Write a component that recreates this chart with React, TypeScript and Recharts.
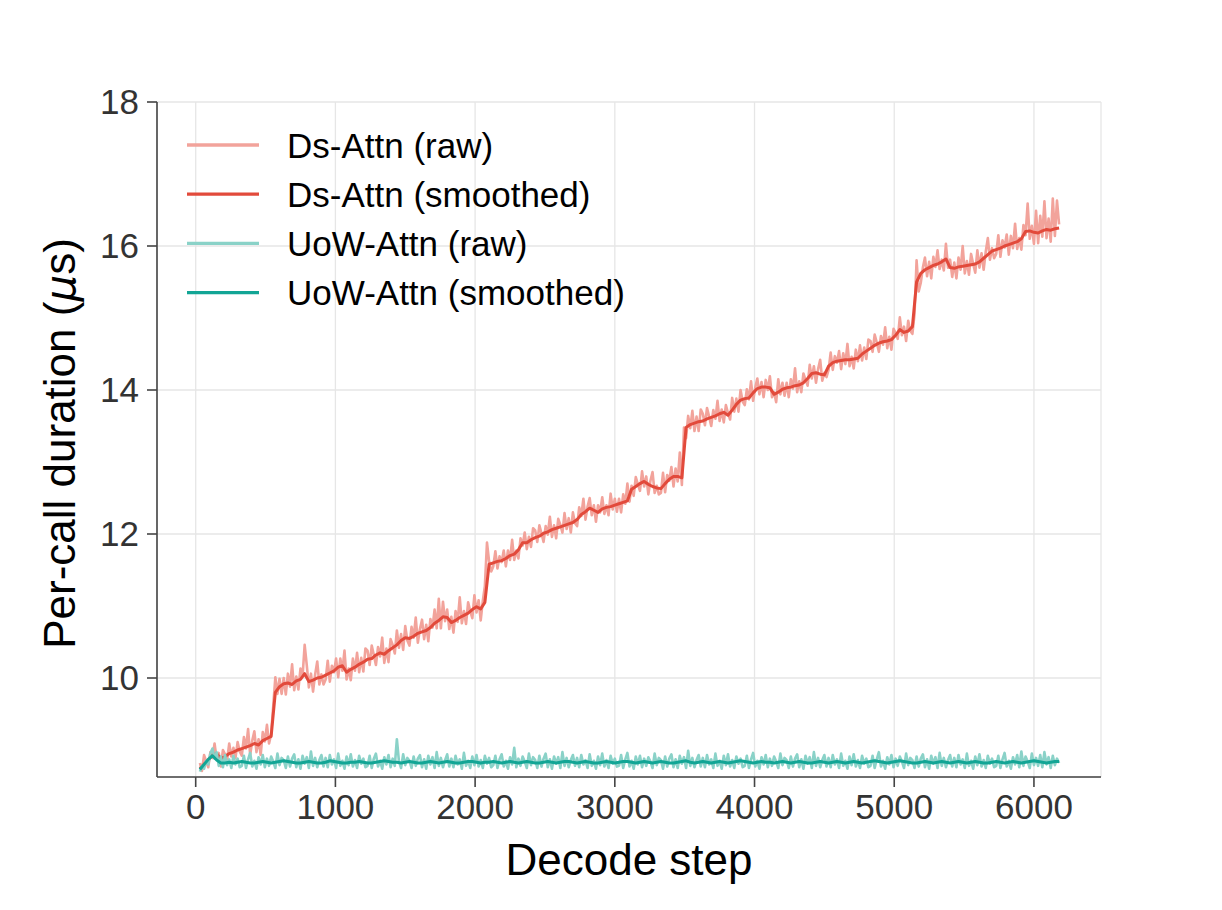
import React from "react";
import { LineChart, Line, XAxis, YAxis, CartesianGrid, Label } from "recharts";

// Raw samples every 15 decode steps, smoothed every 30, both from step 30 to 6180
const FIRST_STEP = 30;
const RAW_GAP = 15;
const SMOOTH_GAP = 30;

// Ds-Attn, raw per-call duration (µs), 20 samples per row
const dsRaw = [
  8.82, 8.71, 8.93, 8.84, 8.76, 8.97, 8.89, 9.09, 8.87, 8.96, 8.77, 9.00, 8.94, 8.86, 9.09, 8.91, 9.03, 8.89, 9.11, 8.98,
  8.92, 9.18, 9.02, 9.29, 8.93, 9.13, 9.26, 8.97, 9.15, 8.93, 9.25, 9.12, 9.35, 9.09, 9.22, 9.61, 10.01, 9.78, 9.99, 9.78,
  10.00, 9.77, 10.06, 9.88, 10.19, 9.83, 10.02, 9.84, 10.13, 10.03, 10.46, 10.18, 9.87, 10.06, 9.81, 10.05, 10.23, 9.91, 10.05, 9.91,
  9.98, 10.24, 9.95, 10.17, 10.08, 10.27, 10.01, 10.27, 10.10, 10.38, 9.98, 10.13, 9.97, 10.27, 10.10, 10.35, 10.08, 10.28, 10.09, 10.41,
  10.38, 10.18, 10.45, 10.32, 10.18, 10.43, 10.30, 10.56, 10.21, 10.41, 10.22, 10.54, 10.46, 10.34, 10.66, 10.42, 10.61, 10.39, 10.72, 10.52,
  10.45, 10.71, 10.56, 10.84, 10.49, 10.68, 10.81, 10.54, 10.74, 10.51, 10.82, 10.70, 10.95, 10.69, 11.10, 10.69, 11.06, 10.79, 10.95, 10.68,
  10.85, 10.63, 10.93, 10.78, 11.12, 10.76, 10.93, 10.75, 11.05, 10.93, 10.83, 11.15, 10.91, 11.08, 10.80, 11.07, 11.28, 11.88, 11.62, 11.48,
  11.55, 11.76, 11.52, 11.69, 11.61, 11.77, 11.55, 11.77, 11.64, 11.92, 11.64, 11.77, 11.66, 11.94, 11.84, 12.02, 11.79, 11.96, 11.82, 12.08,
  12.05, 11.89, 12.12, 12.01, 11.89, 12.11, 11.99, 12.24, 11.96, 12.12, 11.94, 12.21, 12.13, 12.02, 12.29, 12.07, 12.22, 12.02, 12.30, 12.15,
  12.11, 12.37, 12.25, 12.49, 12.20, 12.38, 12.50, 12.26, 12.40, 12.17, 12.40, 12.30, 12.51, 12.28, 12.40, 12.26, 12.56, 12.34, 12.49, 12.31,
  12.49, 12.30, 12.55, 12.42, 12.70, 12.45, 12.67, 12.53, 12.79, 12.69, 12.60, 12.87, 12.66, 12.80, 12.55, 12.74, 12.86, 12.57, 12.67, 12.55,
  12.57, 12.85, 12.58, 12.82, 12.74, 12.93, 12.66, 12.91, 12.73, 13.13, 12.68, 13.48, 13.33, 13.64, 13.47, 13.71, 13.43, 13.63, 13.43, 13.73,
  13.67, 13.51, 13.75, 13.63, 13.50, 13.72, 13.60, 13.85, 13.57, 13.73, 13.55, 13.79, 13.68, 13.59, 13.89, 13.70, 13.88, 13.70, 14.00, 13.84,
  13.79, 14.01, 13.87, 14.12, 13.85, 14.03, 14.16, 13.94, 14.11, 13.90, 14.14, 14.00, 14.19, 13.90, 13.97, 13.83, 14.15, 13.94, 14.10, 13.92,
  14.10, 13.90, 14.15, 14.02, 14.30, 13.97, 14.12, 13.97, 14.23, 14.14, 14.06, 14.35, 14.16, 14.33, 14.10, 14.29, 14.42, 14.13, 14.24, 14.18,
  14.28, 14.52, 14.28, 14.47, 14.38, 14.54, 14.29, 14.51, 14.36, 14.64, 14.33, 14.46, 14.30, 14.56, 14.40, 14.62, 14.41, 14.59, 14.43, 14.70,
  14.68, 14.53, 14.77, 14.66, 14.53, 14.75, 14.63, 14.87, 14.58, 14.74, 14.56, 14.85, 14.79, 14.71, 15.01, 14.76, 14.88, 14.68, 14.96, 14.82,
  14.78, 15.05, 15.80, 15.37, 15.49, 15.70, 15.84, 15.58, 15.78, 15.55, 15.85, 15.71, 15.94, 15.68, 15.81, 15.66, 16.03, 15.70, 15.81, 15.57,
  15.77, 15.55, 15.84, 15.67, 16.00, 15.62, 15.79, 15.60, 15.89, 15.75, 15.63, 15.94, 15.70, 15.90, 15.67, 15.92, 16.11, 15.81, 15.97, 15.83,
  15.89, 16.15, 15.85, 16.08, 15.98, 16.16, 15.88, 16.14, 15.97, 16.31, 15.96, 16.11, 15.95, 16.29, 16.15, 16.59, 16.10, 16.28, 16.03, 16.49,
  16.04, 16.42, 16.13, 16.62, 16.11, 16.38, 16.06, 16.66, 16.14, 16.63, 16.30,
];

// Ds-Attn, smoothed, 10 samples per row
const dsSmooth = [
  8.74, 8.80, 8.86, 8.93, 8.95, 8.88, 8.91, 8.95, 8.97, 9.00,
  9.02, 9.04, 9.06, 9.09, 9.07, 9.13, 9.16, 9.19, 9.80, 9.88,
  9.92, 9.93, 9.91, 9.96, 9.98, 10.06, 9.95, 9.97, 10.00, 10.01,
  10.04, 10.07, 10.10, 10.15, 10.17, 10.08, 10.12, 10.15, 10.19, 10.22,
  10.26, 10.27, 10.32, 10.35, 10.33, 10.38, 10.42, 10.46, 10.52, 10.56,
  10.55, 10.58, 10.62, 10.64, 10.66, 10.70, 10.76, 10.80, 10.85, 10.84,
  10.77, 10.80, 10.84, 10.87, 10.90, 10.95, 10.99, 10.96, 11.05, 11.58,
  11.60, 11.62, 11.63, 11.66, 11.70, 11.72, 11.78, 11.88, 11.88, 11.92,
  11.95, 11.97, 12.01, 12.03, 12.06, 12.08, 12.10, 12.12, 12.14, 12.16,
  12.20, 12.27, 12.31, 12.36, 12.33, 12.30, 12.35, 12.37, 12.38, 12.40,
  12.42, 12.44, 12.46, 12.62, 12.66, 12.70, 12.73, 12.69, 12.66, 12.64,
  12.63, 12.70, 12.76, 12.80, 12.80, 12.78, 13.48, 13.52, 13.54, 13.56,
  13.57, 13.60, 13.62, 13.64, 13.67, 13.69, 13.65, 13.72, 13.80, 13.86,
  13.88, 13.89, 13.96, 14.02, 14.04, 14.04, 14.03, 13.94, 13.97, 14.01,
  14.03, 14.04, 14.06, 14.07, 14.10, 14.16, 14.23, 14.24, 14.22, 14.21,
  14.33, 14.38, 14.40, 14.41, 14.42, 14.42, 14.43, 14.44, 14.50, 14.54,
  14.58, 14.62, 14.65, 14.67, 14.68, 14.70, 14.76, 14.84, 14.80, 14.82,
  14.88, 15.50, 15.62, 15.67, 15.70, 15.73, 15.75, 15.78, 15.82, 15.70,
  15.69, 15.71, 15.72, 15.73, 15.74, 15.75, 15.78, 15.83, 15.88, 15.93,
  15.95, 15.97, 16.00, 16.02, 16.04, 16.06, 16.10, 16.20, 16.21, 16.19,
  16.18, 16.21, 16.23, 16.22, 16.24, 16.25,
];

// UoW-Attn, raw, 20 samples per row
const uowRaw = [
  8.70, 8.78, 8.74, 8.85, 8.80, 8.95, 9.02, 8.88, 8.97, 8.78, 8.91, 8.76, 8.93, 8.79, 8.87, 8.75, 8.92, 8.80, 8.88, 8.76,
  8.78, 8.92, 8.75, 8.87, 8.96, 8.77, 8.85, 8.74, 8.90, 8.80, 8.93, 8.76, 8.88, 8.78, 8.91, 8.84, 8.75, 8.95, 8.79, 8.89,
  8.86, 8.75, 8.91, 8.77, 8.88, 8.94, 8.76, 8.87, 8.74, 8.92, 8.81, 8.90, 8.75, 8.98, 8.78, 8.89, 8.76, 8.86, 8.93, 8.77,
  8.89, 8.76, 8.93, 8.80, 8.87, 8.75, 8.95, 8.78, 8.85, 8.74, 8.91, 8.79, 8.94, 8.77, 8.86, 8.75, 8.92, 8.81, 8.88, 8.76,
  8.78, 8.92, 8.75, 8.88, 8.95, 8.77, 8.85, 8.74, 8.90, 8.80, 8.93, 8.76, 8.88, 8.78, 9.15, 8.84, 8.75, 8.94, 8.79, 8.89,
  8.85, 8.75, 8.91, 8.78, 8.88, 8.93, 8.76, 8.87, 8.74, 8.92, 8.80, 8.90, 8.75, 8.97, 8.78, 8.89, 8.76, 8.86, 8.94, 8.77,
  8.88, 8.76, 8.92, 8.80, 8.87, 8.74, 8.96, 8.78, 8.85, 8.75, 8.91, 8.79, 8.93, 8.77, 8.86, 8.75, 8.92, 8.81, 8.89, 8.76,
  8.79, 8.92, 8.75, 8.87, 8.94, 8.77, 8.85, 8.74, 8.90, 8.80, 9.03, 8.76, 8.88, 8.78, 8.91, 8.84, 8.75, 8.95, 8.79, 8.90,
  8.86, 8.75, 8.92, 8.77, 8.88, 8.95, 8.76, 8.87, 8.74, 8.91, 8.81, 8.90, 8.75, 8.97, 8.78, 8.89, 8.76, 8.86, 8.93, 8.78,
  8.89, 8.76, 8.93, 8.80, 8.86, 8.75, 8.94, 8.78, 8.85, 8.74, 8.91, 8.79, 8.95, 8.77, 8.86, 8.75, 8.92, 8.81, 8.88, 8.77,
  8.78, 8.93, 8.75, 8.87, 8.96, 8.77, 8.85, 8.74, 8.91, 8.80, 8.92, 8.76, 8.88, 8.78, 8.90, 8.84, 8.75, 8.95, 8.79, 8.89,
  8.86, 8.74, 8.91, 8.77, 8.88, 8.94, 8.76, 8.87, 8.75, 8.92, 8.81, 8.90, 8.75, 8.99, 8.78, 8.89, 8.76, 8.86, 8.93, 8.77,
  8.89, 8.76, 8.93, 8.80, 8.87, 8.75, 8.95, 8.78, 8.85, 8.74, 8.92, 8.79, 8.94, 8.77, 8.86, 8.75, 8.91, 8.81, 8.88, 8.76,
  8.78, 8.92, 8.75, 8.87, 8.96, 8.77, 8.85, 8.74, 8.90, 8.80, 8.93, 8.76, 8.88, 8.78, 8.91, 8.84, 8.75, 8.95, 8.79, 8.89,
  8.86, 8.75, 8.91, 8.77, 8.88, 8.94, 8.76, 8.87, 8.74, 8.92, 8.81, 8.90, 8.75, 8.97, 8.78, 8.89, 8.76, 8.86, 8.93, 8.77,
  8.89, 8.76, 8.93, 8.80, 8.87, 8.75, 8.95, 8.78, 8.85, 8.74, 8.91, 8.79, 8.94, 8.77, 8.86, 8.75, 8.92, 8.81, 8.88, 8.76,
  8.78, 8.92, 8.75, 8.87, 8.97, 8.77, 8.85, 8.74, 8.90, 8.80, 8.93, 8.76, 8.88, 8.78, 8.91, 8.84, 8.75, 8.95, 8.79, 8.89,
  8.86, 8.75, 8.91, 8.77, 8.88, 8.94, 8.76, 8.87, 8.74, 8.92, 8.81, 8.90, 8.75, 8.96, 8.78, 8.89, 8.76, 8.86, 8.93, 8.77,
  8.89, 8.76, 8.93, 8.80, 8.87, 8.75, 8.95, 8.78, 8.85, 8.74, 8.91, 8.79, 8.94, 8.77, 8.86, 8.75, 8.92, 8.81, 8.88, 8.76,
  8.78, 8.92, 8.75, 8.87, 8.96, 8.77, 8.85, 8.74, 8.90, 8.80, 8.93, 8.76, 8.98, 8.78, 8.91, 8.84, 8.75, 8.95, 8.79, 8.89,
  8.78, 8.93, 8.76, 8.97, 8.80, 8.90, 8.75, 8.92, 8.79, 8.88, 8.82,
];

// UoW-Attn, smoothed, 10 samples per row
const uowSmooth = [
  8.73, 8.80, 8.87, 8.92, 8.86, 8.82, 8.82, 8.83, 8.82, 8.83,
  8.84, 8.83, 8.82, 8.82, 8.83, 8.84, 8.83, 8.82, 8.83, 8.84,
  8.85, 8.84, 8.83, 8.82, 8.82, 8.83, 8.84, 8.83, 8.82, 8.82,
  8.83, 8.85, 8.84, 8.83, 8.82, 8.82, 8.83, 8.83, 8.84, 8.83,
  8.82, 8.82, 8.83, 8.84, 8.85, 8.84, 8.83, 8.83, 8.82, 8.83,
  8.84, 8.83, 8.82, 8.82, 8.83, 8.84, 8.83, 8.82, 8.83, 8.84,
  8.83, 8.82, 8.82, 8.83, 8.84, 8.84, 8.83, 8.82, 8.83, 8.83,
  8.84, 8.83, 8.82, 8.83, 8.84, 8.83, 8.82, 8.83, 8.84, 8.83,
  8.82, 8.82, 8.83, 8.84, 8.83, 8.82, 8.83, 8.84, 8.84, 8.83,
  8.82, 8.83, 8.84, 8.83, 8.82, 8.82, 8.83, 8.84, 8.83, 8.82,
  8.83, 8.84, 8.84, 8.83, 8.82, 8.83, 8.84, 8.83, 8.82, 8.83,
  8.84, 8.83, 8.82, 8.82, 8.83, 8.84, 8.85, 8.83, 8.82, 8.83,
  8.84, 8.83, 8.82, 8.83, 8.84, 8.83, 8.82, 8.83, 8.84, 8.85,
  8.84, 8.83, 8.82, 8.83, 8.84, 8.83, 8.83, 8.82, 8.83, 8.84,
  8.83, 8.82, 8.83, 8.84, 8.83, 8.82, 8.82, 8.83, 8.84, 8.83,
  8.82, 8.83, 8.84, 8.83, 8.82, 8.83, 8.84, 8.83, 8.82, 8.83,
  8.84, 8.85, 8.84, 8.83, 8.82, 8.83, 8.84, 8.85, 8.84, 8.83,
  8.82, 8.82, 8.83, 8.84, 8.83, 8.82, 8.83, 8.84, 8.83, 8.82,
  8.83, 8.84, 8.83, 8.82, 8.83, 8.84, 8.83, 8.82, 8.82, 8.83,
  8.84, 8.83, 8.82, 8.83, 8.84, 8.83, 8.82, 8.83, 8.84, 8.85,
  8.84, 8.83, 8.82, 8.83, 8.84, 8.84,
];

const xTicks = [0, 1000, 2000, 3000, 4000, 5000, 6000];
const yTicks = [10, 12, 14, 16, 18];

const toPoints = (values: number[], gap: number) =>
  values.map((v, i) => ({ step: FIRST_STEP + i * gap, value: v }));

const series = [
  { key: "dsRaw", name: "Ds-Attn (raw)", color: "#f2a39b", width: 2.6, data: toPoints(dsRaw, RAW_GAP) },
  { key: "dsSmooth", name: "Ds-Attn (smoothed)", color: "#e24a3b", width: 3, data: toPoints(dsSmooth, SMOOTH_GAP) },
  { key: "uowRaw", name: "UoW-Attn (raw)", color: "#8ad2c8", width: 2.6, data: toPoints(uowRaw, RAW_GAP) },
  { key: "uowSmooth", name: "UoW-Attn (smoothed)", color: "#12a595", width: 3, data: toPoints(uowSmooth, SMOOTH_GAP) },
];

const FONT = '"Liberation Sans", Arial, sans-serif';

function YTitle(props: any) {
  const vb = props.viewBox || { x: 0, y: 102, width: 157, height: 675 };
  const cy = vb.y + vb.height / 2 + 4;
  const cx = 75;
  return (
    <text
      x={cx}
      y={cy}
      transform={`rotate(-90, ${cx}, ${cy})`}
      textAnchor="middle"
      fontSize={44}
      fontFamily={FONT}
      fill="#000"
    >
      Per-call duration (<tspan fontStyle="italic" fontFamily='"DejaVu Sans", sans-serif' fontSize={42}>μ</tspan>s)
    </text>
  );
}

function LegendBox() {
  return (
    <svg
      width={500}
      height={200}
      style={{ position: "absolute", left: 180, top: 120, overflow: "visible" }}
    >
      {series.map((s, i) => {
        const y = 25 + i * 49.2;
        return (
          <g key={s.key}>
            <line x1={7} x2={79} y1={y} y2={y} stroke={s.color} strokeWidth={3.3} />
            <text x={107} y={y + 12.5} fontSize={35} fontFamily={FONT} fill="#000">
              {s.name}
            </text>
          </g>
        );
      })}
    </svg>
  );
}

export default function App() {
  return (
    <div style={{ position: "absolute", left: 0, top: 0, width: 1222, height: 910, background: "#fff" }}>
      <LineChart width={1222} height={910} margin={{ top: 102, right: 121, bottom: 0, left: 0 }}>
        <CartesianGrid stroke="#e6e6e6" strokeWidth={1.3} />
        <XAxis
          dataKey="step"
          type="number"
          domain={[-277, 6480]}
          allowDataOverflow
          ticks={xTicks}
          height={133}
          tickSize={10}
          tickMargin={7}
          stroke="#444"
          strokeWidth={1.6}
          tick={{ fontSize: 35, fill: "#333", fontFamily: FONT }}
          label={{ value: "Decode step", position: "insideBottom", offset: 35, fontSize: 44, fill: "#000", fontFamily: FONT }}
        />
        <YAxis
          type="number"
          domain={[8.625, 18]}
          allowDataOverflow
          ticks={yTicks}
          width={157}
          tickSize={10}
          tickMargin={8}
          stroke="#444"
          strokeWidth={1.6}
          tick={{ fontSize: 35, fill: "#333", fontFamily: FONT }}
        >
          <Label content={<YTitle />} />
        </YAxis>
        {series.map((s) => (
          <Line
            key={s.key}
            data={s.data}
            type="linear"
            dataKey="value"
            name={s.name}
            stroke={s.color}
            strokeWidth={s.width}
            strokeLinejoin="round"
            dot={false}
            activeDot={false}
            isAnimationActive={false}
          />
        ))}
      </LineChart>
      <LegendBox />
    </div>
  );
}
